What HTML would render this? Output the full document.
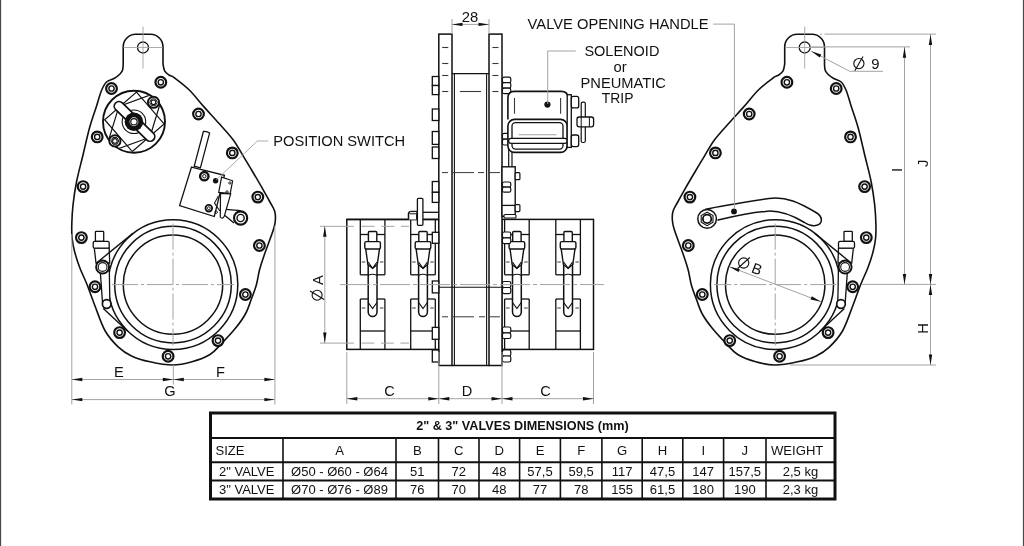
<!DOCTYPE html><html><head><meta charset="utf-8"><style>html,body{margin:0;padding:0;background:#fff;overflow:hidden}svg{display:block;will-change:transform}</style></head><body><svg width="1024" height="546" viewBox="0 0 1024 546"><rect width="1024" height="546" fill="#fff"/><rect x="0" y="0" width="1.15" height="546" fill="#4a4a4a"/><rect x="1022.9" y="0" width="1.1" height="546" fill="#4a4a4a"/><g>
<path d="M123.2,64 L123.2,46.8 A12.5,12.5 0 0 1 135.7,34.3 L150.5,34.3 A12.5,12.5 0 0 1 163,46.8 L163,64 C163.27,65.13 163.6,68.97 164.6,70.8 C165.6,72.63 167.32,73.8 169,75 C170.68,76.2 171.32,75.5 174.7,78 C178.08,80.5 184.42,85.18 189.3,90 C194.18,94.82 199.12,101.4 204,106.9 C208.88,112.4 213.72,117.48 218.6,123 C223.48,128.52 229.17,134.43 233.3,140 C237.43,145.57 240.25,151.23 243.4,156.4 C246.55,161.57 249.02,165.63 252.2,171 C255.38,176.37 259.45,183.27 262.5,188.6 C265.55,193.93 268.48,199.27 270.5,203 C272.52,206.73 273.78,208.33 274.6,211 C275.42,213.67 275.57,216 275.4,219 C275.23,222 275.5,222.88 273.6,229 C271.7,235.12 266.35,248.87 264,255.7 C261.65,262.53 260.77,265.17 259.5,270 C258.23,274.83 257.77,279.82 256.4,284.7 C255.03,289.58 253.13,294.42 251.3,299.3 C249.47,304.18 248.08,309.12 245.4,314 C242.72,318.88 239.35,323.48 235.2,328.6 C231.05,333.72 224.7,340.38 220.5,344.7 C216.3,349.02 214.75,351.65 210,354.5 C205.25,357.35 198.22,360.05 192,361.8 C185.78,363.55 179.7,365 172.7,365 C165.7,365 156.87,363.32 150,361.8 C143.13,360.28 136.77,358.35 131.5,355.9 C126.23,353.45 122.78,351.25 118.4,347.1 C114.02,342.95 109.1,337.85 105.2,331 C101.3,324.15 98.05,313.8 95,306 C91.95,298.2 89.42,290.53 86.9,284.2 C84.38,277.87 81.93,273.37 79.9,268 C77.87,262.63 76,257 74.7,252 C73.4,247 72.58,242.67 72.1,238 C71.62,233.33 71.65,229.5 71.8,224 C71.95,218.5 72.22,212 73,205 C73.78,198 74.92,190 76.5,182 C78.08,174 80.33,166 82.5,157 C84.67,148 87.17,136.47 89.5,128 C91.83,119.53 94.5,112.45 96.5,106.2 C98.5,99.95 99.83,94.53 101.5,90.5 C103.17,86.47 104.42,84 106.5,82 C108.58,80 111.75,79.83 114,78.5 C116.25,77.17 118.57,75.42 120,74 C121.43,72.58 122.07,71.67 122.6,70 C123.13,68.33 123.1,65 123.2,64 Z" fill="#fff" stroke="#111" stroke-width="1.6"/>
<circle cx="143" cy="47.5" r="5.5" fill="none" stroke="#111" stroke-width="1.3"/>
<line x1="143" y1="26.5" x2="143" y2="68.5" stroke="#a3a3a3" stroke-width="0.9"/>
<line x1="123.5" y1="47.5" x2="162.5" y2="47.5" stroke="#a3a3a3" stroke-width="0.9"/>
<circle cx="173" cy="284.6" r="64.8" fill="none" stroke="#111" stroke-width="1.5"/>
<circle cx="173" cy="284.6" r="58.3" fill="none" stroke="#111" stroke-width="1.5"/>
<circle cx="173" cy="284.6" r="49.7" fill="none" stroke="#111" stroke-width="1.5"/>
<line x1="173" y1="223.6" x2="173" y2="345.6" stroke="#a3a3a3" stroke-width="1" stroke-dasharray="26,3,3,3"/>
<line x1="112" y1="284.6" x2="234" y2="284.6" stroke="#a3a3a3" stroke-width="1" stroke-dasharray="26,3,3,3"/>
<circle cx="111.5" cy="88.5" r="5.35" fill="#fff" stroke="#111" stroke-width="2.2"/><circle cx="111.5" cy="88.5" r="2.65" fill="none" stroke="#111" stroke-width="1.4"/>
<circle cx="160.8" cy="82.3" r="5.35" fill="#fff" stroke="#111" stroke-width="2.2"/><circle cx="160.8" cy="82.3" r="2.65" fill="none" stroke="#111" stroke-width="1.4"/>
<circle cx="198.5" cy="114" r="5.35" fill="#fff" stroke="#111" stroke-width="2.2"/><circle cx="198.5" cy="114" r="2.65" fill="none" stroke="#111" stroke-width="1.4"/>
<circle cx="232.3" cy="152.9" r="5.35" fill="#fff" stroke="#111" stroke-width="2.2"/><circle cx="232.3" cy="152.9" r="2.65" fill="none" stroke="#111" stroke-width="1.4"/>
<circle cx="257.8" cy="197.1" r="5.35" fill="#fff" stroke="#111" stroke-width="2.2"/><circle cx="257.8" cy="197.1" r="2.65" fill="none" stroke="#111" stroke-width="1.4"/>
<circle cx="259.4" cy="245.5" r="5.35" fill="#fff" stroke="#111" stroke-width="2.2"/><circle cx="259.4" cy="245.5" r="2.65" fill="none" stroke="#111" stroke-width="1.4"/>
<circle cx="245.4" cy="294.5" r="5.35" fill="#fff" stroke="#111" stroke-width="2.2"/><circle cx="245.4" cy="294.5" r="2.65" fill="none" stroke="#111" stroke-width="1.4"/>
<circle cx="218" cy="340.6" r="5.35" fill="#fff" stroke="#111" stroke-width="2.2"/><circle cx="218" cy="340.6" r="2.65" fill="none" stroke="#111" stroke-width="1.4"/>
<circle cx="168.1" cy="356.3" r="5.35" fill="#fff" stroke="#111" stroke-width="2.2"/><circle cx="168.1" cy="356.3" r="2.65" fill="none" stroke="#111" stroke-width="1.4"/>
<circle cx="119.6" cy="332.6" r="5.35" fill="#fff" stroke="#111" stroke-width="2.2"/><circle cx="119.6" cy="332.6" r="2.65" fill="none" stroke="#111" stroke-width="1.4"/>
<circle cx="95" cy="286.8" r="5.35" fill="#fff" stroke="#111" stroke-width="2.2"/><circle cx="95" cy="286.8" r="2.65" fill="none" stroke="#111" stroke-width="1.4"/>
<circle cx="81.4" cy="237.6" r="5.35" fill="#fff" stroke="#111" stroke-width="2.2"/><circle cx="81.4" cy="237.6" r="2.65" fill="none" stroke="#111" stroke-width="1.4"/>
<circle cx="83.1" cy="186.6" r="5.35" fill="#fff" stroke="#111" stroke-width="2.2"/><circle cx="83.1" cy="186.6" r="2.65" fill="none" stroke="#111" stroke-width="1.4"/>
<circle cx="97.2" cy="136.9" r="5.35" fill="#fff" stroke="#111" stroke-width="2.2"/><circle cx="97.2" cy="136.9" r="2.65" fill="none" stroke="#111" stroke-width="1.4"/>
<path d="M100.3,271.5 L102.6,304 L109.9,304 L109.3,270.5 Z" fill="#fff" stroke="#111" stroke-width="1.3"/>
<path d="M94.3,248 L96,263 L109.7,263 L109.2,248 Z" fill="#fff" stroke="#111" stroke-width="1.3"/>
<rect x="95.4" y="231.3" width="8.3" height="10.1" rx="0.8" fill="#fff" stroke="#111" stroke-width="1.3"/>
<rect x="93.2" y="241.4" width="16" height="6.8" rx="1.5" fill="#fff" stroke="#111" stroke-width="1.3"/>
<circle cx="102.6" cy="267" r="6.5" fill="#fff" stroke="#111" stroke-width="1.9"/>
<circle cx="102.6" cy="267" r="4.4" fill="none" stroke="#111" stroke-width="1.1"/>
<circle cx="106.7" cy="304" r="4.3" fill="#fff" stroke="#111" stroke-width="1.7"/>
<line x1="132.9" y1="233.4" x2="96.2" y2="263.2" stroke="#111" stroke-width="1.4"/>
<line x1="103.3" y1="308.6" x2="127.8" y2="331.3" stroke="#111" stroke-width="1.4"/>
<circle cx="134" cy="121.7" r="31" fill="#fff" stroke="#111" stroke-width="1.9"/>
<clipPath id="pc"><circle cx="134" cy="121.7" r="30.2"/></clipPath>
<g clip-path="url(#pc)">
<polygon points="136.48,92.07 164.13,123.88 132.32,151.53 104.67,119.72" fill="none" stroke="#111" stroke-width="1.2"/>
<polygon points="149.86,137.24 104.44,153.77 118.94,106.36 164.36,89.83" fill="none" stroke="#111" stroke-width="1.2"/>
</g>
<circle cx="133.95" cy="121.75" r="11.8" fill="none" stroke="#111" stroke-width="1.1"/>
<line x1="119" y1="106.3" x2="150" y2="136.5" stroke="#111" stroke-width="11.2" stroke-linecap="round"/>
<line x1="119" y1="106.3" x2="150" y2="136.5" stroke="#fff" stroke-width="7.8" stroke-linecap="round"/>
<circle cx="133.95" cy="121.75" r="9.3" fill="#111" stroke="#111" stroke-width="0"/>
<circle cx="133.95" cy="121.75" r="4.4" fill="#fff" stroke="#111" stroke-width="0"/>
<circle cx="133.95" cy="121.75" r="3.2" fill="none" stroke="#111" stroke-width="1.2"/>
<circle cx="153.5" cy="102.3" r="5.6" fill="#fff" stroke="#111" stroke-width="1.9"/><polygon points="157.4,102.3 155.45,105.68 151.55,105.68 149.6,102.3 151.55,98.92 155.45,98.92" fill="none" stroke="#111" stroke-width="1"/><circle cx="153.5" cy="102.3" r="2.3" fill="none" stroke="#111" stroke-width="1.1"/>
<circle cx="114.9" cy="140.9" r="5.6" fill="#fff" stroke="#111" stroke-width="1.9"/><polygon points="118.8,140.9 116.85,144.28 112.95,144.28 111,140.9 112.95,137.52 116.85,137.52" fill="none" stroke="#111" stroke-width="1"/><circle cx="114.9" cy="140.9" r="2.3" fill="none" stroke="#111" stroke-width="1.1"/>
<path d="M203.4,131.5 Q206.6,130.8 209.6,133.1 L200.4,167.8 L194.2,166.2 Z" fill="#fff" stroke="#111" stroke-width="1.3"/>
<path d="M191.5,167.1 L224.4,175.3 L214.3,216.5 L179.6,205.5 Z" fill="#fff" stroke="#111" stroke-width="1.3"/>
<path d="M224.9,215.5 L234,223.5 L241,226 L241,210.5 L225.7,209.3 Z" fill="#fff" stroke="#111" stroke-width="0"/>
<path d="M225.7,209.3 L240.6,210.6 M224.9,215.5 L234,223" fill="none" stroke="#111" stroke-width="1.3"/>
<path d="M221.6,177.1 L232.6,180.8 L230.2,193.6 L218.7,192.4 Z" fill="#fff" stroke="#111" stroke-width="1.2"/>
<path d="M220.5,193.4 L230.7,193.8 L224.3,216.2 Q222.3,219.5 220.3,217 Z" fill="#fff" stroke="#111" stroke-width="1.2"/>
<path d="M218.4,196 L214.5,203.1 L219.9,211" fill="none" stroke="#111" stroke-width="1.1"/>
<circle cx="204.3" cy="176.2" r="4.2" fill="#fff" stroke="#111" stroke-width="2.4"/>
<circle cx="204.3" cy="176.2" r="1.7" fill="none" stroke="#111" stroke-width="1"/>
<circle cx="215.6" cy="180.8" r="2.7" fill="#111" stroke="#111" stroke-width="0"/>
<circle cx="208.8" cy="208.2" r="3.3" fill="#fff" stroke="#111" stroke-width="1.8"/>
<circle cx="208.8" cy="208.2" r="1.4" fill="none" stroke="#111" stroke-width="0.9"/>
<circle cx="229.8" cy="183" r="1.1" fill="none" stroke="#111" stroke-width="0.9"/>
<circle cx="227" cy="192" r="1.2" fill="none" stroke="#111" stroke-width="0.9"/>
<circle cx="216.2" cy="212.2" r="1.2" fill="none" stroke="#111" stroke-width="0.9"/>
<circle cx="240.6" cy="218" r="6.6" fill="#fff" stroke="#111" stroke-width="2.1"/>
<circle cx="240.6" cy="218" r="3.6" fill="none" stroke="#111" stroke-width="1.4"/>
<polyline points="216.2,179.9 257.4,141 268.4,141" fill="none" stroke="#a3a3a3" stroke-width="0.9"/>
</g>
<g transform="matrix(-1,0,0,1,947.7,0)">
<path d="M123.2,64 L123.2,46.8 A12.5,12.5 0 0 1 135.7,34.3 L150.5,34.3 A12.5,12.5 0 0 1 163,46.8 L163,64 C163.27,65.13 163.6,68.97 164.6,70.8 C165.6,72.63 167.32,73.8 169,75 C170.68,76.2 171.32,75.5 174.7,78 C178.08,80.5 184.42,85.18 189.3,90 C194.18,94.82 199.12,101.4 204,106.9 C208.88,112.4 213.72,117.48 218.6,123 C223.48,128.52 229.17,134.43 233.3,140 C237.43,145.57 240.25,151.23 243.4,156.4 C246.55,161.57 249.02,165.63 252.2,171 C255.38,176.37 259.45,183.27 262.5,188.6 C265.55,193.93 268.48,199.27 270.5,203 C272.52,206.73 273.78,208.33 274.6,211 C275.42,213.67 275.57,216 275.4,219 C275.23,222 275.5,222.88 273.6,229 C271.7,235.12 266.35,248.87 264,255.7 C261.65,262.53 260.77,265.17 259.5,270 C258.23,274.83 257.77,279.82 256.4,284.7 C255.03,289.58 253.13,294.42 251.3,299.3 C249.47,304.18 248.08,309.12 245.4,314 C242.72,318.88 239.35,323.48 235.2,328.6 C231.05,333.72 224.7,340.38 220.5,344.7 C216.3,349.02 214.75,351.65 210,354.5 C205.25,357.35 198.22,360.05 192,361.8 C185.78,363.55 179.7,365 172.7,365 C165.7,365 156.87,363.32 150,361.8 C143.13,360.28 136.77,358.35 131.5,355.9 C126.23,353.45 122.78,351.25 118.4,347.1 C114.02,342.95 109.1,337.85 105.2,331 C101.3,324.15 98.05,313.8 95,306 C91.95,298.2 89.42,290.53 86.9,284.2 C84.38,277.87 81.93,273.37 79.9,268 C77.87,262.63 76,257 74.7,252 C73.4,247 72.58,242.67 72.1,238 C71.62,233.33 71.65,229.5 71.8,224 C71.95,218.5 72.22,212 73,205 C73.78,198 74.92,190 76.5,182 C78.08,174 80.33,166 82.5,157 C84.67,148 87.17,136.47 89.5,128 C91.83,119.53 94.5,112.45 96.5,106.2 C98.5,99.95 99.83,94.53 101.5,90.5 C103.17,86.47 104.42,84 106.5,82 C108.58,80 111.75,79.83 114,78.5 C116.25,77.17 118.57,75.42 120,74 C121.43,72.58 122.07,71.67 122.6,70 C123.13,68.33 123.1,65 123.2,64 Z" fill="#fff" stroke="#111" stroke-width="1.6"/>
<circle cx="143" cy="47.5" r="5.5" fill="none" stroke="#111" stroke-width="1.3"/>
<line x1="143" y1="26.5" x2="143" y2="68.5" stroke="#a3a3a3" stroke-width="0.9"/>
<line x1="123.5" y1="47.5" x2="162.5" y2="47.5" stroke="#a3a3a3" stroke-width="0.9"/>
<circle cx="172.5" cy="284.6" r="64.8" fill="none" stroke="#111" stroke-width="1.5"/>
<circle cx="172.5" cy="284.6" r="58.3" fill="none" stroke="#111" stroke-width="1.5"/>
<circle cx="172.5" cy="284.6" r="49.7" fill="none" stroke="#111" stroke-width="1.5"/>
<line x1="172.5" y1="223.6" x2="172.5" y2="345.6" stroke="#a3a3a3" stroke-width="1" stroke-dasharray="26,3,3,3"/>
<line x1="111.5" y1="284.6" x2="233.5" y2="284.6" stroke="#a3a3a3" stroke-width="1" stroke-dasharray="26,3,3,3"/>
<circle cx="111.5" cy="88.5" r="5.35" fill="#fff" stroke="#111" stroke-width="2.2"/><circle cx="111.5" cy="88.5" r="2.65" fill="none" stroke="#111" stroke-width="1.4"/>
<circle cx="160.8" cy="82.3" r="5.35" fill="#fff" stroke="#111" stroke-width="2.2"/><circle cx="160.8" cy="82.3" r="2.65" fill="none" stroke="#111" stroke-width="1.4"/>
<circle cx="198.5" cy="114" r="5.35" fill="#fff" stroke="#111" stroke-width="2.2"/><circle cx="198.5" cy="114" r="2.65" fill="none" stroke="#111" stroke-width="1.4"/>
<circle cx="232.3" cy="152.9" r="5.35" fill="#fff" stroke="#111" stroke-width="2.2"/><circle cx="232.3" cy="152.9" r="2.65" fill="none" stroke="#111" stroke-width="1.4"/>
<circle cx="257.8" cy="197.1" r="5.35" fill="#fff" stroke="#111" stroke-width="2.2"/><circle cx="257.8" cy="197.1" r="2.65" fill="none" stroke="#111" stroke-width="1.4"/>
<circle cx="259.4" cy="245.5" r="5.35" fill="#fff" stroke="#111" stroke-width="2.2"/><circle cx="259.4" cy="245.5" r="2.65" fill="none" stroke="#111" stroke-width="1.4"/>
<circle cx="245.4" cy="294.5" r="5.35" fill="#fff" stroke="#111" stroke-width="2.2"/><circle cx="245.4" cy="294.5" r="2.65" fill="none" stroke="#111" stroke-width="1.4"/>
<circle cx="218" cy="340.6" r="5.35" fill="#fff" stroke="#111" stroke-width="2.2"/><circle cx="218" cy="340.6" r="2.65" fill="none" stroke="#111" stroke-width="1.4"/>
<circle cx="168.1" cy="356.3" r="5.35" fill="#fff" stroke="#111" stroke-width="2.2"/><circle cx="168.1" cy="356.3" r="2.65" fill="none" stroke="#111" stroke-width="1.4"/>
<circle cx="119.6" cy="332.6" r="5.35" fill="#fff" stroke="#111" stroke-width="2.2"/><circle cx="119.6" cy="332.6" r="2.65" fill="none" stroke="#111" stroke-width="1.4"/>
<circle cx="95" cy="286.8" r="5.35" fill="#fff" stroke="#111" stroke-width="2.2"/><circle cx="95" cy="286.8" r="2.65" fill="none" stroke="#111" stroke-width="1.4"/>
<circle cx="81.4" cy="237.6" r="5.35" fill="#fff" stroke="#111" stroke-width="2.2"/><circle cx="81.4" cy="237.6" r="2.65" fill="none" stroke="#111" stroke-width="1.4"/>
<circle cx="83.1" cy="186.6" r="5.35" fill="#fff" stroke="#111" stroke-width="2.2"/><circle cx="83.1" cy="186.6" r="2.65" fill="none" stroke="#111" stroke-width="1.4"/>
<circle cx="97.2" cy="136.9" r="5.35" fill="#fff" stroke="#111" stroke-width="2.2"/><circle cx="97.2" cy="136.9" r="2.65" fill="none" stroke="#111" stroke-width="1.4"/>
<path d="M100.3,271.5 L102.6,304 L109.9,304 L109.3,270.5 Z" fill="#fff" stroke="#111" stroke-width="1.3"/>
<path d="M94.3,248 L96,263 L109.7,263 L109.2,248 Z" fill="#fff" stroke="#111" stroke-width="1.3"/>
<rect x="95.4" y="231.3" width="8.3" height="10.1" rx="0.8" fill="#fff" stroke="#111" stroke-width="1.3"/>
<rect x="93.2" y="241.4" width="16" height="6.8" rx="1.5" fill="#fff" stroke="#111" stroke-width="1.3"/>
<circle cx="102.6" cy="267" r="6.5" fill="#fff" stroke="#111" stroke-width="1.9"/>
<circle cx="102.6" cy="267" r="4.4" fill="none" stroke="#111" stroke-width="1.1"/>
<circle cx="106.7" cy="304" r="4.3" fill="#fff" stroke="#111" stroke-width="1.7"/>
<line x1="132.9" y1="233.4" x2="96.2" y2="263.2" stroke="#111" stroke-width="1.4"/>
<line x1="103.3" y1="308.6" x2="127.8" y2="331.3" stroke="#111" stroke-width="1.4"/>
</g>
<path d="M705,209.4 C720,206 745,202 769,198.4 C786,196 800,203 816,212.5 C823,216.5 823.5,224 815.5,225.6 C811,226.5 807.5,224.5 804.5,222.5 C790,214 776,210 765.2,211.4 C746,213 731,217 717.4,220.3" fill="#fff" stroke="#111" stroke-width="1.5"/>
<circle cx="707.1" cy="218.9" r="9.3" fill="#fff" stroke="#111" stroke-width="1.5"/>
<polygon points="712.99,222.3 707.1,225.7 701.21,222.3 701.21,215.5 707.1,212.1 712.99,215.5" fill="none" stroke="#111" stroke-width="1.1"/>
<circle cx="707.1" cy="218.9" r="4.2" fill="none" stroke="#111" stroke-width="1.8"/>
<circle cx="734" cy="211.4" r="2.9" fill="#111" stroke="#111" stroke-width="0"/>
<rect x="346.8" y="219.4" width="92" height="130" rx="0" fill="#fff" stroke="#111" stroke-width="1.5"/>
<rect x="501.8" y="219.4" width="91.7" height="130" rx="0" fill="#fff" stroke="#111" stroke-width="1.5"/>
<line x1="360.3" y1="219.4" x2="360.3" y2="274.8" stroke="#111" stroke-width="1.3"/>
<line x1="384.9" y1="219.4" x2="384.9" y2="274.8" stroke="#111" stroke-width="1.3"/>
<line x1="360.3" y1="234.5" x2="384.9" y2="234.5" stroke="#111" stroke-width="1.3"/>
<line x1="360.3" y1="274.8" x2="384.9" y2="274.8" stroke="#111" stroke-width="1.3"/>
<line x1="360.3" y1="299" x2="360.3" y2="349.4" stroke="#111" stroke-width="1.3"/>
<line x1="384.9" y1="299" x2="384.9" y2="349.4" stroke="#111" stroke-width="1.3"/>
<line x1="360.3" y1="299" x2="384.9" y2="299" stroke="#111" stroke-width="1.3"/>
<line x1="360.3" y1="331" x2="384.9" y2="331" stroke="#111" stroke-width="1.3"/>
<line x1="361.8" y1="262" x2="365.3" y2="262" stroke="#3a3a3a" stroke-width="1"/>
<line x1="379.9" y1="262" x2="383.4" y2="262" stroke="#3a3a3a" stroke-width="1"/>
<line x1="361.8" y1="308" x2="365.3" y2="308" stroke="#3a3a3a" stroke-width="1"/>
<line x1="379.9" y1="308" x2="383.4" y2="308" stroke="#3a3a3a" stroke-width="1"/>
<path d="M368.2,262 L368.2,312 A4.4,4.4 0 0 0 377,312 L377,262" fill="#fff" stroke="#111" stroke-width="1.5"/>
<path d="M368.2,275.5 Q372.6,273 377,275.5" fill="none" stroke="#111" stroke-width="1.1"/>
<path d="M368.2,302.5 L372.6,308.5 L377,302.5" fill="none" stroke="#111" stroke-width="1.2"/>
<path d="M365.7,248.9 L367.9,264.5 L372.6,268.3 L377.3,264.5 L379.5,248.9 Z" fill="#fff" stroke="#111" stroke-width="1.4"/>
<path d="M368.2,262 L372.6,268.3 L377,262" fill="none" stroke="#111" stroke-width="1.1"/>
<rect x="368.4" y="231.5" width="8.4" height="10.5" rx="1" fill="#fff" stroke="#111" stroke-width="1.4"/>
<rect x="364.8" y="241.6" width="15.6" height="7.3" rx="1.5" fill="#fff" stroke="#111" stroke-width="1.4"/>
<line x1="410.7" y1="219.4" x2="410.7" y2="274.8" stroke="#111" stroke-width="1.3"/>
<line x1="435.3" y1="219.4" x2="435.3" y2="274.8" stroke="#111" stroke-width="1.3"/>
<line x1="410.7" y1="234.5" x2="435.3" y2="234.5" stroke="#111" stroke-width="1.3"/>
<line x1="410.7" y1="274.8" x2="435.3" y2="274.8" stroke="#111" stroke-width="1.3"/>
<line x1="410.7" y1="299" x2="410.7" y2="349.4" stroke="#111" stroke-width="1.3"/>
<line x1="435.3" y1="299" x2="435.3" y2="349.4" stroke="#111" stroke-width="1.3"/>
<line x1="410.7" y1="299" x2="435.3" y2="299" stroke="#111" stroke-width="1.3"/>
<line x1="410.7" y1="331" x2="435.3" y2="331" stroke="#111" stroke-width="1.3"/>
<line x1="412.2" y1="262" x2="415.7" y2="262" stroke="#3a3a3a" stroke-width="1"/>
<line x1="430.3" y1="262" x2="433.8" y2="262" stroke="#3a3a3a" stroke-width="1"/>
<line x1="412.2" y1="308" x2="415.7" y2="308" stroke="#3a3a3a" stroke-width="1"/>
<line x1="430.3" y1="308" x2="433.8" y2="308" stroke="#3a3a3a" stroke-width="1"/>
<path d="M418.6,262 L418.6,312 A4.4,4.4 0 0 0 427.4,312 L427.4,262" fill="#fff" stroke="#111" stroke-width="1.5"/>
<path d="M418.6,275.5 Q423,273 427.4,275.5" fill="none" stroke="#111" stroke-width="1.1"/>
<path d="M418.6,302.5 L423,308.5 L427.4,302.5" fill="none" stroke="#111" stroke-width="1.2"/>
<path d="M416.1,248.9 L418.3,264.5 L423,268.3 L427.7,264.5 L429.9,248.9 Z" fill="#fff" stroke="#111" stroke-width="1.4"/>
<path d="M418.6,262 L423,268.3 L427.4,262" fill="none" stroke="#111" stroke-width="1.1"/>
<rect x="418.8" y="231.5" width="8.4" height="10.5" rx="1" fill="#fff" stroke="#111" stroke-width="1.4"/>
<rect x="415.2" y="241.6" width="15.6" height="7.3" rx="1.5" fill="#fff" stroke="#111" stroke-width="1.4"/>
<line x1="504.6" y1="219.4" x2="504.6" y2="274.8" stroke="#111" stroke-width="1.3"/>
<line x1="529.2" y1="219.4" x2="529.2" y2="274.8" stroke="#111" stroke-width="1.3"/>
<line x1="504.6" y1="234.5" x2="529.2" y2="234.5" stroke="#111" stroke-width="1.3"/>
<line x1="504.6" y1="274.8" x2="529.2" y2="274.8" stroke="#111" stroke-width="1.3"/>
<line x1="504.6" y1="299" x2="504.6" y2="349.4" stroke="#111" stroke-width="1.3"/>
<line x1="529.2" y1="299" x2="529.2" y2="349.4" stroke="#111" stroke-width="1.3"/>
<line x1="504.6" y1="299" x2="529.2" y2="299" stroke="#111" stroke-width="1.3"/>
<line x1="504.6" y1="331" x2="529.2" y2="331" stroke="#111" stroke-width="1.3"/>
<line x1="506.1" y1="262" x2="509.6" y2="262" stroke="#3a3a3a" stroke-width="1"/>
<line x1="524.2" y1="262" x2="527.7" y2="262" stroke="#3a3a3a" stroke-width="1"/>
<line x1="506.1" y1="308" x2="509.6" y2="308" stroke="#3a3a3a" stroke-width="1"/>
<line x1="524.2" y1="308" x2="527.7" y2="308" stroke="#3a3a3a" stroke-width="1"/>
<path d="M512.5,262 L512.5,312 A4.4,4.4 0 0 0 521.3,312 L521.3,262" fill="#fff" stroke="#111" stroke-width="1.5"/>
<path d="M512.5,275.5 Q516.9,273 521.3,275.5" fill="none" stroke="#111" stroke-width="1.1"/>
<path d="M512.5,302.5 L516.9,308.5 L521.3,302.5" fill="none" stroke="#111" stroke-width="1.2"/>
<path d="M510,248.9 L512.2,264.5 L516.9,268.3 L521.6,264.5 L523.8,248.9 Z" fill="#fff" stroke="#111" stroke-width="1.4"/>
<path d="M512.5,262 L516.9,268.3 L521.3,262" fill="none" stroke="#111" stroke-width="1.1"/>
<rect x="512.7" y="231.5" width="8.4" height="10.5" rx="1" fill="#fff" stroke="#111" stroke-width="1.4"/>
<rect x="509.1" y="241.6" width="15.6" height="7.3" rx="1.5" fill="#fff" stroke="#111" stroke-width="1.4"/>
<line x1="555.8" y1="219.4" x2="555.8" y2="274.8" stroke="#111" stroke-width="1.3"/>
<line x1="580.4" y1="219.4" x2="580.4" y2="274.8" stroke="#111" stroke-width="1.3"/>
<line x1="555.8" y1="234.5" x2="580.4" y2="234.5" stroke="#111" stroke-width="1.3"/>
<line x1="555.8" y1="274.8" x2="580.4" y2="274.8" stroke="#111" stroke-width="1.3"/>
<line x1="555.8" y1="299" x2="555.8" y2="349.4" stroke="#111" stroke-width="1.3"/>
<line x1="580.4" y1="299" x2="580.4" y2="349.4" stroke="#111" stroke-width="1.3"/>
<line x1="555.8" y1="299" x2="580.4" y2="299" stroke="#111" stroke-width="1.3"/>
<line x1="555.8" y1="331" x2="580.4" y2="331" stroke="#111" stroke-width="1.3"/>
<line x1="557.3" y1="262" x2="560.8" y2="262" stroke="#3a3a3a" stroke-width="1"/>
<line x1="575.4" y1="262" x2="578.9" y2="262" stroke="#3a3a3a" stroke-width="1"/>
<line x1="557.3" y1="308" x2="560.8" y2="308" stroke="#3a3a3a" stroke-width="1"/>
<line x1="575.4" y1="308" x2="578.9" y2="308" stroke="#3a3a3a" stroke-width="1"/>
<path d="M563.7,262 L563.7,312 A4.4,4.4 0 0 0 572.5,312 L572.5,262" fill="#fff" stroke="#111" stroke-width="1.5"/>
<path d="M563.7,275.5 Q568.1,273 572.5,275.5" fill="none" stroke="#111" stroke-width="1.1"/>
<path d="M563.7,302.5 L568.1,308.5 L572.5,302.5" fill="none" stroke="#111" stroke-width="1.2"/>
<path d="M561.2,248.9 L563.4,264.5 L568.1,268.3 L572.8,264.5 L575,248.9 Z" fill="#fff" stroke="#111" stroke-width="1.4"/>
<path d="M563.7,262 L568.1,268.3 L572.5,262" fill="none" stroke="#111" stroke-width="1.1"/>
<rect x="563.9" y="231.5" width="8.4" height="10.5" rx="1" fill="#fff" stroke="#111" stroke-width="1.4"/>
<rect x="560.3" y="241.6" width="15.6" height="7.3" rx="1.5" fill="#fff" stroke="#111" stroke-width="1.4"/>
<rect x="438.8" y="34.1" width="13.2" height="331.4" rx="0" fill="#fff" stroke="#111" stroke-width="1.5"/>
<rect x="489" y="34.1" width="13" height="331.4" rx="0" fill="#fff" stroke="#111" stroke-width="1.5"/>
<line x1="452" y1="73.6" x2="489" y2="73.6" stroke="#111" stroke-width="1.4"/>
<line x1="454.4" y1="73.6" x2="454.4" y2="365.5" stroke="#111" stroke-width="1.1"/>
<line x1="486.6" y1="73.6" x2="486.6" y2="365.5" stroke="#111" stroke-width="1.1"/>
<line x1="452" y1="365.5" x2="489" y2="365.5" stroke="#111" stroke-width="1.5"/>
<line x1="438.8" y1="287.2" x2="502" y2="287.2" stroke="#111" stroke-width="1.1"/>
<line x1="442.2" y1="47.5" x2="448.3" y2="47.5" stroke="#3a3a3a" stroke-width="1.1"/>
<line x1="492.4" y1="47.5" x2="498.5" y2="47.5" stroke="#3a3a3a" stroke-width="1.1"/>
<line x1="442.2" y1="63.5" x2="448.3" y2="63.5" stroke="#3a3a3a" stroke-width="1.1"/>
<line x1="492.4" y1="63.5" x2="498.5" y2="63.5" stroke="#3a3a3a" stroke-width="1.1"/>
<line x1="442.2" y1="75.5" x2="448.3" y2="75.5" stroke="#3a3a3a" stroke-width="1.1"/>
<line x1="492.4" y1="75.5" x2="498.5" y2="75.5" stroke="#3a3a3a" stroke-width="1.1"/>
<line x1="442.2" y1="91.5" x2="448.3" y2="91.5" stroke="#3a3a3a" stroke-width="1.1"/>
<line x1="492.4" y1="91.5" x2="498.5" y2="91.5" stroke="#3a3a3a" stroke-width="1.1"/>
<line x1="459.8" y1="91.5" x2="481" y2="91.5" stroke="#3a3a3a" stroke-width="1.1"/>
<line x1="442" y1="172.6" x2="500" y2="172.6" stroke="#3a3a3a" stroke-width="1" stroke-dasharray="6,4,22,4"/>
<line x1="442" y1="316.8" x2="500" y2="316.8" stroke="#3a3a3a" stroke-width="1" stroke-dasharray="6,5,21,5"/>
<rect x="432.3" y="76.5" width="6.5" height="9" rx="0" fill="#fff" stroke="#111" stroke-width="1.3"/>
<rect x="432.3" y="85.5" width="6.5" height="9.1" rx="0" fill="#fff" stroke="#111" stroke-width="1.3"/>
<rect x="432.3" y="109" width="6.5" height="11.5" rx="0" fill="#fff" stroke="#111" stroke-width="1.3"/>
<rect x="432.3" y="131.5" width="6.5" height="12.9" rx="0" fill="#fff" stroke="#111" stroke-width="1.3"/>
<rect x="432.3" y="147" width="6.5" height="11.5" rx="0" fill="#fff" stroke="#111" stroke-width="1.3"/>
<rect x="432.3" y="181.5" width="6.5" height="10.8" rx="0" fill="#fff" stroke="#111" stroke-width="1.3"/>
<rect x="432.3" y="192.3" width="6.5" height="10.1" rx="0" fill="#fff" stroke="#111" stroke-width="1.3"/>
<rect x="432.3" y="232.3" width="6.5" height="11" rx="0" fill="#fff" stroke="#111" stroke-width="1.3"/>
<rect x="432.3" y="281" width="6.5" height="11.9" rx="0" fill="#fff" stroke="#111" stroke-width="1.3"/>
<rect x="432.3" y="327.4" width="6.5" height="11.9" rx="0" fill="#fff" stroke="#111" stroke-width="1.3"/>
<rect x="432.3" y="350" width="6.5" height="12" rx="0" fill="#fff" stroke="#111" stroke-width="1.3"/>
<rect x="502" y="166.8" width="13.2" height="49.5" rx="0" fill="#fff" stroke="#111" stroke-width="1.4"/>
<line x1="502" y1="205.4" x2="515.2" y2="205.4" stroke="#111" stroke-width="1.3"/>
<rect x="515.2" y="172.7" width="4.7" height="7" rx="1" fill="#fff" stroke="#111" stroke-width="1.2"/>
<rect x="515.2" y="204.6" width="4.7" height="7" rx="1" fill="#fff" stroke="#111" stroke-width="1.2"/>
<line x1="508.7" y1="145" x2="508.7" y2="166.8" stroke="#111" stroke-width="1.2"/>
<line x1="512" y1="145" x2="512" y2="166.8" stroke="#111" stroke-width="1.2"/>
<rect x="504" y="214.5" width="12" height="3.5" rx="1" fill="#fff" stroke="#111" stroke-width="1.1"/>
<rect x="502.4" y="77.2" width="8.4" height="5.5" rx="1.8" fill="#fff" stroke="#111" stroke-width="1.2"/>
<rect x="502.4" y="82.7" width="8.4" height="5.5" rx="1.8" fill="#fff" stroke="#111" stroke-width="1.2"/>
<rect x="502.4" y="88.2" width="8.4" height="5.5" rx="1.8" fill="#fff" stroke="#111" stroke-width="1.2"/>
<rect x="502.4" y="133.4" width="8.4" height="5.8" rx="1.8" fill="#fff" stroke="#111" stroke-width="1.2"/>
<rect x="502.4" y="139.2" width="8.4" height="5.8" rx="1.8" fill="#fff" stroke="#111" stroke-width="1.2"/>
<rect x="502.4" y="182" width="8.4" height="5.1" rx="1.8" fill="#fff" stroke="#111" stroke-width="1.2"/>
<rect x="502.4" y="187.1" width="8.4" height="5.1" rx="1.8" fill="#fff" stroke="#111" stroke-width="1.2"/>
<rect x="502.4" y="232" width="8.4" height="5.8" rx="1.8" fill="#fff" stroke="#111" stroke-width="1.2"/>
<rect x="502.4" y="237.8" width="8.4" height="5.8" rx="1.8" fill="#fff" stroke="#111" stroke-width="1.2"/>
<rect x="502.4" y="281.5" width="8.4" height="6" rx="1.8" fill="#fff" stroke="#111" stroke-width="1.2"/>
<rect x="502.4" y="287.5" width="8.4" height="6.1" rx="1.8" fill="#fff" stroke="#111" stroke-width="1.2"/>
<rect x="502.4" y="327" width="8.4" height="5.8" rx="1.8" fill="#fff" stroke="#111" stroke-width="1.2"/>
<rect x="502.4" y="332.8" width="8.4" height="5.7" rx="1.8" fill="#fff" stroke="#111" stroke-width="1.2"/>
<rect x="502.4" y="350" width="8.4" height="6" rx="1.8" fill="#fff" stroke="#111" stroke-width="1.2"/>
<rect x="502.4" y="356" width="8.4" height="6" rx="1.8" fill="#fff" stroke="#111" stroke-width="1.2"/>
<path d="M507.9,119.4 L507.9,98 Q507.9,91.4 514.5,91.4 L561,91.4 Q568,91.4 568,98 L568,119.4" fill="#fff" stroke="#111" stroke-width="1.6"/>
<rect x="507.9" y="119.4" width="59.3" height="33" rx="6.6" fill="#fff" stroke="#111" stroke-width="1.6"/>
<rect x="512" y="122.7" width="51" height="26.4" rx="3.5" fill="#fff" stroke="#111" stroke-width="1.3"/>
<rect x="508.6" y="138.4" width="58.6" height="4.9" rx="2.4" fill="#fff" stroke="#111" stroke-width="1.3"/>
<line x1="518.6" y1="134.7" x2="556.5" y2="134.7" stroke="#a3a3a3" stroke-width="1.1"/>
<line x1="514.5" y1="98" x2="514.5" y2="113.7" stroke="#3a3a3a" stroke-width="1.1"/>
<line x1="560.6" y1="98" x2="560.6" y2="113.7" stroke="#3a3a3a" stroke-width="1.1"/>
<circle cx="547.4" cy="104.6" r="3.1" fill="#111" stroke="#111" stroke-width="0"/>
<rect x="567.2" y="94.7" width="4.1" height="52.7" rx="0" fill="#fff" stroke="#111" stroke-width="1.3"/>
<rect x="571.3" y="96.4" width="7.4" height="11.5" rx="2" fill="#fff" stroke="#111" stroke-width="1.3"/>
<rect x="571.3" y="135" width="7.4" height="11.6" rx="2" fill="#fff" stroke="#111" stroke-width="1.3"/>
<rect x="581.2" y="102.1" width="4.1" height="40.4" rx="1.5" fill="#fff" stroke="#111" stroke-width="1.2"/>
<rect x="577" y="117" width="16.6" height="9.8" rx="2.2" fill="#fff" stroke="#111" stroke-width="1.3"/>
<line x1="581.2" y1="117" x2="581.2" y2="126.8" stroke="#111" stroke-width="1"/>
<line x1="589.4" y1="117" x2="589.4" y2="126.8" stroke="#111" stroke-width="1"/>
<line x1="422.9" y1="212.3" x2="439" y2="212.3" stroke="#111" stroke-width="1.3"/>
<line x1="346.7" y1="219.5" x2="439" y2="219.5" stroke="#111" stroke-width="1.5"/>
<rect x="417.4" y="198.3" width="5.5" height="27" rx="1" fill="#fff" stroke="#111" stroke-width="1.3"/>
<path d="M408.5,219.5 L408.5,213.5 Q409,211.6 411,211.6 L416.8,211.6 L416.8,219.5" fill="#fff" stroke="#111" stroke-width="1.5"/>
<rect x="409.5" y="211.6" width="7.3" height="2.2" rx="1" fill="#fff" stroke="#111" stroke-width="1"/>
<line x1="320" y1="226.3" x2="353.8" y2="226.3" stroke="#a3a3a3" stroke-width="1"/>
<line x1="361.4" y1="226.3" x2="409" y2="226.3" stroke="#a3a3a3" stroke-width="1" stroke-dasharray="13.2,6.6"/>
<line x1="320" y1="343.1" x2="354" y2="343.1" stroke="#a3a3a3" stroke-width="1"/>
<line x1="361.6" y1="343.1" x2="409" y2="343.1" stroke="#a3a3a3" stroke-width="1" stroke-dasharray="12.8,6.6"/>
<line x1="340" y1="284.6" x2="604" y2="284.6" stroke="#a3a3a3" stroke-width="1" stroke-dasharray="30,3,4,3"/>
<line x1="346.8" y1="352" x2="346.8" y2="404" stroke="#a3a3a3" stroke-width="1"/>
<line x1="438.8" y1="352" x2="438.8" y2="404" stroke="#a3a3a3" stroke-width="1"/>
<line x1="502" y1="352" x2="502" y2="404" stroke="#a3a3a3" stroke-width="1"/>
<line x1="593.5" y1="352" x2="593.5" y2="404" stroke="#a3a3a3" stroke-width="1"/>
<line x1="71.8" y1="234" x2="71.8" y2="404.5" stroke="#a3a3a3" stroke-width="1"/>
<line x1="274.9" y1="226" x2="274.9" y2="404.5" stroke="#a3a3a3" stroke-width="1"/>
<line x1="173.3" y1="365" x2="173.3" y2="384.5" stroke="#a3a3a3" stroke-width="1"/>
<line x1="71.8" y1="379.5" x2="274.9" y2="379.5" stroke="#a3a3a3" stroke-width="1"/>
<path d="M71.8,379.5 L82.3,377.8 L82.3,381.2 Z" fill="#111"/>
<path d="M173.3,379.5 L162.8,381.2 L162.8,377.8 Z" fill="#111"/>
<path d="M173.3,379.5 L183.8,377.8 L183.8,381.2 Z" fill="#111"/>
<path d="M274.9,379.5 L264.4,381.2 L264.4,377.8 Z" fill="#111"/>
<line x1="71.8" y1="399.6" x2="274.9" y2="399.6" stroke="#a3a3a3" stroke-width="1"/>
<path d="M71.8,399.6 L82.3,397.9 L82.3,401.3 Z" fill="#111"/>
<path d="M274.9,399.6 L264.4,401.3 L264.4,397.9 Z" fill="#111"/>
<line x1="346.8" y1="398.7" x2="593.5" y2="398.7" stroke="#a3a3a3" stroke-width="1"/>
<path d="M346.8,398.7 L357.3,397 L357.3,400.4 Z" fill="#111"/>
<path d="M438.8,398.7 L428.3,400.4 L428.3,397 Z" fill="#111"/>
<path d="M438.8,398.7 L449.3,397 L449.3,400.4 Z" fill="#111"/>
<path d="M502,398.7 L491.5,400.4 L491.5,397 Z" fill="#111"/>
<path d="M502,398.7 L512.5,397 L512.5,400.4 Z" fill="#111"/>
<path d="M593.5,398.7 L583,400.4 L583,397 Z" fill="#111"/>
<line x1="324.8" y1="226.3" x2="324.8" y2="343.1" stroke="#a3a3a3" stroke-width="1"/>
<path d="M324.8,226.3 L326.5,236.8 L323.1,236.8 Z" fill="#111"/>
<path d="M324.8,343.1 L323.1,332.6 L326.5,332.6 Z" fill="#111"/>
<line x1="452" y1="19" x2="452" y2="34" stroke="#a3a3a3" stroke-width="1"/>
<line x1="489" y1="19" x2="489" y2="34" stroke="#a3a3a3" stroke-width="1"/>
<line x1="452" y1="24.4" x2="489" y2="24.4" stroke="#a3a3a3" stroke-width="1"/>
<path d="M452,24.4 L462.5,22.7 L462.5,26.1 Z" fill="#111"/>
<path d="M489,24.4 L478.5,26.1 L478.5,22.7 Z" fill="#111"/>
<line x1="820" y1="34.1" x2="822" y2="34.1" stroke="#a3a3a3" stroke-width="1"/>
<line x1="824.5" y1="34.1" x2="936" y2="34.1" stroke="#a3a3a3" stroke-width="1"/>
<line x1="810" y1="46.9" x2="910" y2="46.9" stroke="#a3a3a3" stroke-width="1"/>
<line x1="862" y1="284.4" x2="936" y2="284.4" stroke="#a3a3a3" stroke-width="1"/>
<line x1="790" y1="365" x2="936" y2="365" stroke="#a3a3a3" stroke-width="1"/>
<line x1="904.5" y1="46.9" x2="904.5" y2="284.4" stroke="#a3a3a3" stroke-width="1"/>
<path d="M904.5,47.2 L906.2,57.7 L902.8,57.7 Z" fill="#111"/>
<path d="M904.5,284.4 L902.8,273.9 L906.2,273.9 Z" fill="#111"/>
<line x1="930.5" y1="34.1" x2="930.5" y2="365" stroke="#a3a3a3" stroke-width="1"/>
<path d="M930.5,34.4 L932.2,44.9 L928.8,44.9 Z" fill="#111"/>
<path d="M930.5,284.4 L928.8,273.9 L932.2,273.9 Z" fill="#111"/>
<path d="M930.5,284.4 L932.2,294.9 L928.8,294.9 Z" fill="#111"/>
<path d="M930.5,365 L928.8,354.5 L932.2,354.5 Z" fill="#111"/>
<polyline points="811.2,51.2 849.7,71.3 883,71.3" fill="none" stroke="#a3a3a3" stroke-width="1"/>
<path d="M811.2,51.2 L821.29,54.56 L819.72,57.57 Z" fill="#111"/>
<line x1="729.4" y1="266.7" x2="821" y2="301.7" stroke="#a3a3a3" stroke-width="1"/>
<path d="M729.4,266.7 L739.81,268.88 L738.59,272.05 Z" fill="#111"/>
<path d="M821,301.7 L810.59,299.52 L811.81,296.35 Z" fill="#111"/>
<polyline points="713.3,24.1 734.4,24.1 734.4,209" fill="none" stroke="#a3a3a3" stroke-width="1"/>
<polyline points="575.8,51 547.7,51 547.7,104" fill="none" stroke="#a3a3a3" stroke-width="1"/>
<text x="527.6" y="29.4" font-family="Liberation Sans, sans-serif" font-size="14.9" text-anchor="start" fill="#111" textLength="181" lengthAdjust="spacingAndGlyphs" >VALVE OPENING HANDLE</text>
<text x="584.4" y="56.2" font-family="Liberation Sans, sans-serif" font-size="14.8" text-anchor="start" fill="#111" textLength="75" lengthAdjust="spacingAndGlyphs" >SOLENOID</text>
<text x="620" y="71.5" font-family="Liberation Sans, sans-serif" font-size="14.8" text-anchor="middle" fill="#111" >or</text>
<text x="580.5" y="87.9" font-family="Liberation Sans, sans-serif" font-size="14.8" text-anchor="start" fill="#111" textLength="85.3" lengthAdjust="spacingAndGlyphs" >PNEUMATIC</text>
<text x="601.8" y="103.3" font-family="Liberation Sans, sans-serif" font-size="14.8" text-anchor="start" fill="#111" textLength="31.7" lengthAdjust="spacingAndGlyphs" >TRIP</text>
<text x="273.2" y="146.2" font-family="Liberation Sans, sans-serif" font-size="14.8" text-anchor="start" fill="#111" textLength="132" lengthAdjust="spacingAndGlyphs" >POSITION SWITCH</text>
<text x="469.9" y="21.7" font-family="Liberation Sans, sans-serif" font-size="14.8" text-anchor="middle" fill="#111" >28</text>
<text x="118.9" y="376.7" font-family="Liberation Sans, sans-serif" font-size="14.6" text-anchor="middle" fill="#111" >E</text>
<text x="220.4" y="376.7" font-family="Liberation Sans, sans-serif" font-size="14.6" text-anchor="middle" fill="#111" >F</text>
<text x="169.9" y="396.1" font-family="Liberation Sans, sans-serif" font-size="14.6" text-anchor="middle" fill="#111" >G</text>
<text x="389.6" y="396.3" font-family="Liberation Sans, sans-serif" font-size="14.6" text-anchor="middle" fill="#111" >C</text>
<text x="467" y="396.3" font-family="Liberation Sans, sans-serif" font-size="14.6" text-anchor="middle" fill="#111" >D</text>
<text x="545.5" y="396.3" font-family="Liberation Sans, sans-serif" font-size="14.6" text-anchor="middle" fill="#111" >C</text>
<circle cx="858.9" cy="63.6" r="5.1" fill="none" stroke="#111" stroke-width="1.1"/><line x1="854.8" y1="70.7" x2="863" y2="56.5" stroke="#111" stroke-width="1.1"/>
<text x="875.3" y="68.8" font-family="Liberation Sans, sans-serif" font-size="14.8" text-anchor="middle" fill="#111" >9</text>
<circle cx="317.1" cy="295.2" r="5" fill="none" stroke="#111" stroke-width="1.1"/><line x1="310.07" y1="290.98" x2="324.13" y2="299.42" stroke="#111" stroke-width="1.1"/>
<g transform="translate(322.6,280) rotate(-90)"><text x="0" y="0" font-family="Liberation Sans, sans-serif" font-size="14.8" text-anchor="middle" fill="#111" >A</text></g>
<g transform="translate(927.8,328.4) rotate(-90)"><text x="0" y="0" font-family="Liberation Sans, sans-serif" font-size="14.8" text-anchor="middle" fill="#111" >H</text></g>
<g transform="translate(902,169.9) rotate(-90)"><text x="0" y="0" font-family="Liberation Sans, sans-serif" font-size="14.8" text-anchor="middle" fill="#111" >I</text></g>
<g transform="translate(928.1,163.4) rotate(-90)"><text x="0" y="0" font-family="Liberation Sans, sans-serif" font-size="14.8" text-anchor="middle" fill="#111" >J</text></g>
<circle cx="743.7" cy="263" r="5.1" fill="none" stroke="#111" stroke-width="1.1"/><line x1="737.61" y1="268.49" x2="749.79" y2="257.51" stroke="#111" stroke-width="1.1"/>
<g transform="translate(757,268.7) rotate(21)"><text x="0" y="5.3" font-family="Liberation Sans, sans-serif" font-size="14.8" text-anchor="middle" fill="#111" >B</text></g>
<rect x="210.5" y="413" width="624.5" height="86" fill="none" stroke="#111" stroke-width="3"/>
<line x1="210.5" y1="438" x2="835" y2="438" stroke="#111" stroke-width="2"/>
<line x1="210.5" y1="462.2" x2="835" y2="462.2" stroke="#111" stroke-width="2"/>
<line x1="210.5" y1="480.5" x2="835" y2="480.5" stroke="#111" stroke-width="2"/>
<line x1="283" y1="438" x2="283" y2="499" stroke="#111" stroke-width="1.6"/>
<line x1="396" y1="438" x2="396" y2="499" stroke="#111" stroke-width="1.6"/>
<line x1="438.5" y1="438" x2="438.5" y2="499" stroke="#111" stroke-width="1.6"/>
<line x1="479" y1="438" x2="479" y2="499" stroke="#111" stroke-width="1.6"/>
<line x1="519.6" y1="438" x2="519.6" y2="499" stroke="#111" stroke-width="1.6"/>
<line x1="560.4" y1="438" x2="560.4" y2="499" stroke="#111" stroke-width="1.6"/>
<line x1="601.9" y1="438" x2="601.9" y2="499" stroke="#111" stroke-width="1.6"/>
<line x1="642.2" y1="438" x2="642.2" y2="499" stroke="#111" stroke-width="1.6"/>
<line x1="682.8" y1="438" x2="682.8" y2="499" stroke="#111" stroke-width="1.6"/>
<line x1="723.6" y1="438" x2="723.6" y2="499" stroke="#111" stroke-width="1.6"/>
<line x1="766" y1="438" x2="766" y2="499" stroke="#111" stroke-width="1.6"/>
<text x="522.4" y="430.1" font-family="Liberation Sans, sans-serif" font-size="13.4" text-anchor="middle" fill="#111" textLength="212.5" lengthAdjust="spacingAndGlyphs" font-weight="bold">2" &amp; 3" VALVES DIMENSIONS (mm)</text>
<text x="215.5" y="454.7" font-family="Liberation Sans, sans-serif" font-size="13.1" text-anchor="start" fill="#111" >SIZE</text>
<text x="246.75" y="476.3" font-family="Liberation Sans, sans-serif" font-size="13.0" text-anchor="middle" fill="#111" >2" VALVE</text>
<text x="246.75" y="494.3" font-family="Liberation Sans, sans-serif" font-size="13.0" text-anchor="middle" fill="#111" >3" VALVE</text>
<text x="339.5" y="454.7" font-family="Liberation Sans, sans-serif" font-size="13.1" text-anchor="middle" fill="#111" >A</text>
<text x="339.5" y="476.3" font-family="Liberation Sans, sans-serif" font-size="13.0" text-anchor="middle" fill="#111" >Ø50 - Ø60 - Ø64</text>
<text x="339.5" y="494.3" font-family="Liberation Sans, sans-serif" font-size="13.0" text-anchor="middle" fill="#111" >Ø70 - Ø76 - Ø89</text>
<text x="417.25" y="454.7" font-family="Liberation Sans, sans-serif" font-size="13.1" text-anchor="middle" fill="#111" >B</text>
<text x="417.25" y="476.3" font-family="Liberation Sans, sans-serif" font-size="13.0" text-anchor="middle" fill="#111" >51</text>
<text x="417.25" y="494.3" font-family="Liberation Sans, sans-serif" font-size="13.0" text-anchor="middle" fill="#111" >76</text>
<text x="458.75" y="454.7" font-family="Liberation Sans, sans-serif" font-size="13.1" text-anchor="middle" fill="#111" >C</text>
<text x="458.75" y="476.3" font-family="Liberation Sans, sans-serif" font-size="13.0" text-anchor="middle" fill="#111" >72</text>
<text x="458.75" y="494.3" font-family="Liberation Sans, sans-serif" font-size="13.0" text-anchor="middle" fill="#111" >70</text>
<text x="499.3" y="454.7" font-family="Liberation Sans, sans-serif" font-size="13.1" text-anchor="middle" fill="#111" >D</text>
<text x="499.3" y="476.3" font-family="Liberation Sans, sans-serif" font-size="13.0" text-anchor="middle" fill="#111" >48</text>
<text x="499.3" y="494.3" font-family="Liberation Sans, sans-serif" font-size="13.0" text-anchor="middle" fill="#111" >48</text>
<text x="540" y="454.7" font-family="Liberation Sans, sans-serif" font-size="13.1" text-anchor="middle" fill="#111" >E</text>
<text x="540" y="476.3" font-family="Liberation Sans, sans-serif" font-size="13.0" text-anchor="middle" fill="#111" >57,5</text>
<text x="540" y="494.3" font-family="Liberation Sans, sans-serif" font-size="13.0" text-anchor="middle" fill="#111" >77</text>
<text x="581.15" y="454.7" font-family="Liberation Sans, sans-serif" font-size="13.1" text-anchor="middle" fill="#111" >F</text>
<text x="581.15" y="476.3" font-family="Liberation Sans, sans-serif" font-size="13.0" text-anchor="middle" fill="#111" >59,5</text>
<text x="581.15" y="494.3" font-family="Liberation Sans, sans-serif" font-size="13.0" text-anchor="middle" fill="#111" >78</text>
<text x="622.05" y="454.7" font-family="Liberation Sans, sans-serif" font-size="13.1" text-anchor="middle" fill="#111" >G</text>
<text x="622.05" y="476.3" font-family="Liberation Sans, sans-serif" font-size="13.0" text-anchor="middle" fill="#111" >117</text>
<text x="622.05" y="494.3" font-family="Liberation Sans, sans-serif" font-size="13.0" text-anchor="middle" fill="#111" >155</text>
<text x="662.5" y="454.7" font-family="Liberation Sans, sans-serif" font-size="13.1" text-anchor="middle" fill="#111" >H</text>
<text x="662.5" y="476.3" font-family="Liberation Sans, sans-serif" font-size="13.0" text-anchor="middle" fill="#111" >47,5</text>
<text x="662.5" y="494.3" font-family="Liberation Sans, sans-serif" font-size="13.0" text-anchor="middle" fill="#111" >61,5</text>
<text x="703.2" y="454.7" font-family="Liberation Sans, sans-serif" font-size="13.1" text-anchor="middle" fill="#111" >I</text>
<text x="703.2" y="476.3" font-family="Liberation Sans, sans-serif" font-size="13.0" text-anchor="middle" fill="#111" >147</text>
<text x="703.2" y="494.3" font-family="Liberation Sans, sans-serif" font-size="13.0" text-anchor="middle" fill="#111" >180</text>
<text x="744.8" y="454.7" font-family="Liberation Sans, sans-serif" font-size="13.1" text-anchor="middle" fill="#111" >J</text>
<text x="744.8" y="476.3" font-family="Liberation Sans, sans-serif" font-size="13.0" text-anchor="middle" fill="#111" >157,5</text>
<text x="744.8" y="494.3" font-family="Liberation Sans, sans-serif" font-size="13.0" text-anchor="middle" fill="#111" >190</text>
<text x="771" y="454.7" font-family="Liberation Sans, sans-serif" font-size="13.1" text-anchor="start" fill="#111" >WEIGHT</text>
<text x="800.5" y="476.3" font-family="Liberation Sans, sans-serif" font-size="13.0" text-anchor="middle" fill="#111" >2,5 kg</text>
<text x="800.5" y="494.3" font-family="Liberation Sans, sans-serif" font-size="13.0" text-anchor="middle" fill="#111" >2,3 kg</text></svg></body></html>
